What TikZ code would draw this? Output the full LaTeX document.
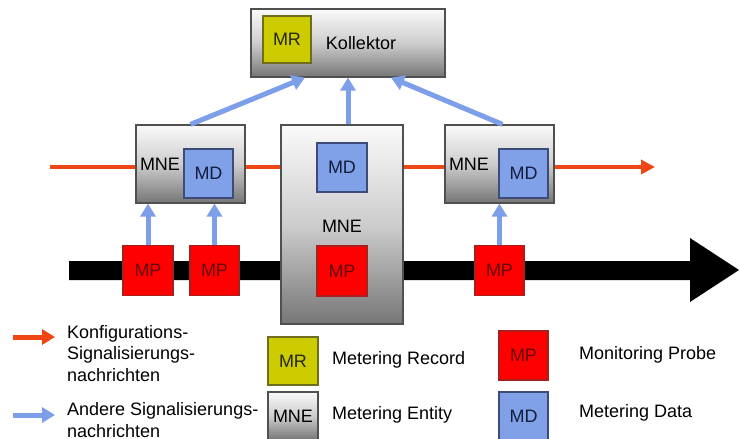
\documentclass[tikz,border=0pt]{standalone}
\usepackage{fontspec}
\setmainfont{Liberation Sans}
\usetikzlibrary{arrows.meta,calc}

\definecolor{cfgred}{RGB}{240,70,20}
\definecolor{sigblue}{RGB}{125,158,232}
\definecolor{mdfill}{RGB}{128,160,232}
\definecolor{mdedge}{RGB}{60,75,120}
\definecolor{mdtext}{RGB}{20,30,60}
\definecolor{mpfill}{RGB}{255,0,0}
\definecolor{mpedge}{RGB}{170,30,30}
\definecolor{mptext}{RGB}{100,10,10}
\definecolor{mrfill}{RGB}{204,204,0}
\definecolor{mredge}{RGB}{110,110,30}
\definecolor{mrtext}{RGB}{40,40,10}
\definecolor{boxedge}{RGB}{80,80,80}
\definecolor{shadelow}{RGB}{118,118,118}
\definecolor{shademid}{RGB}{205,205,205}
\definecolor{shadetop}{RGB}{250,250,250}

% light at the top, darker gray towards the bottom
\pgfdeclareverticalshading{entityshade}{100bp}{color(0bp)=(shadelow); color(25bp)=(shadelow); color(50bp)=(shademid); color(75bp)=(shadetop); color(100bp)=(shadetop)}

\tikzset{
  txt/.style={font=\fontsize{18}{21.5}\selectfont},
  entity/.style={rectangle, inner sep=0pt, draw=boxedge, line width=1.2pt, shading=entityshade},
  mdbox/.style={rectangle, inner sep=0pt, draw=mdedge, line width=1.2pt, fill=mdfill, text=mdtext,
    minimum width=49pt, minimum height=49pt, txt},
  mpbox/.style={rectangle, inner sep=0pt, draw=mpedge, line width=1.2pt, fill=mpfill, text=mptext,
    minimum width=50pt, minimum height=50pt, txt},
  mrbox/.style={rectangle, inner sep=0pt, draw=mredge, line width=1.2pt, fill=mrfill, text=mrtext,
    minimum width=48pt, minimum height=47pt, txt},
  lbl/.style={txt, inner sep=0pt},
  sigarrow/.style={draw=sigblue, line width=5pt, -{Triangle[width=15pt,length=13pt]}},
  cfgline/.style={draw=cfgred, line width=4pt, -{Triangle[width=14pt,length=14pt]}},
  legcfg/.style={draw=cfgred, line width=5pt, -{Triangle[width=15pt,length=13pt]}},
}

\begin{document}
\begin{tikzpicture}[x=1pt,y=-1pt]
  \fill[white] (0,0) rectangle (740,439);
  \useasboundingbox (0,0) rectangle (740,439);

  % configuration signalling line
  \coordinate (cfgstart) at (50,167);
  \coordinate (cfgend) at (655,167);
  \draw[cfgline] (cfgstart) -- (cfgend);

  % data path (thick black arrow)
  \fill[black] (69,261) -- (690,261) -- (690,238) -- (739,270) -- (690,302) -- (690,280) -- (69,280) -- cycle;

  % collector
  \node[entity, minimum width=194pt, minimum height=68pt] (koll) at (348,43) {};
  \node[mrbox] (mr) at (287,39.5) {MR};
  \node[lbl] (kolltxt) at (361,43) {Kollektor};

  % left metering entity
  \node[entity, minimum width=109pt, minimum height=78pt] (mne1) at (190.5,164) {};
  \node[lbl] (mne1txt) at (160,164) {MNE};
  \node[mdbox] (md1) at (208.5,173.5) {MD};

  % central metering entity
  \node[entity, minimum width=122pt, minimum height=199pt] (mne2) at (342,224.5) {};
  \node[mdbox, minimum width=50pt] (md2) at (342,167.5) {MD};
  \node[lbl] (mne2txt) at (342,226) {MNE};
  \node[mpbox] (mp3) at (342,271) {MP};

  % right metering entity
  \node[entity, minimum width=109pt, minimum height=78pt] (mne3) at (499.5,164) {};
  \node[lbl] (mne3txt) at (469,164) {MNE};
  \node[mdbox] (md3) at (523.5,173.5) {MD};

  % monitoring probes on the data path
  \node[mpbox] (mp1) at (148,270.5) {MP};
  \node[mpbox, minimum width=49pt] (mp2) at (214.5,270.5) {MP};
  \node[mpbox, minimum width=49pt] (mp4) at (499.5,270.5) {MP};

  % other signalling
  \draw[sigarrow] (mp1.north) -- (mp1.north |- mne1.south);
  \draw[sigarrow] (mp2.north) -- (mp2.north |- mne1.south);
  \draw[sigarrow] (mp4.north) -- (mp4.north |- mne3.south);
  \draw[sigarrow] (mne1.north) -- ($(koll.south west)!0.28!(koll.south east)$);
  \draw[sigarrow] (koll.south |- mne2.north) -- (koll.south);
  \draw[sigarrow] ([xshift=3pt]mne3.north) -- ($(koll.south west)!0.72!(koll.south east)$);

  % legend
  \coordinate (lcfg1) at (13,337);
  \coordinate (lcfg2) at (55,337);
  \draw[legcfg] (lcfg1) -- (lcfg2);
  \node[lbl, anchor=west, align=left] (lcfgtxt) at (67,353.5) {Konfigurations-\\Signalisierungs-\\nachrichten};

  \coordinate (lsig1) at (13,415);
  \coordinate (lsig2) at (55,415);
  \draw[sigarrow] (lsig1) -- (lsig2);
  \node[lbl, anchor=west, align=left] (lsigtxt) at (67,420) {Andere Signalisierungs-\\nachrichten};

  \node[mrbox, minimum width=50pt, minimum height=48pt] (lmr) at (293,361) {MR};
  \node[lbl, anchor=west] (lmrtxt) at (332,360) {Metering Record};

  \node[entity, minimum width=50pt, minimum height=48pt, txt] (lmne) at (293,416) {MNE};
  \node[lbl, anchor=west] (lmnetxt) at (332,415) {Metering Entity};

  \node[mpbox, minimum width=49pt, minimum height=49pt] (lmp) at (523.5,355.5) {MP};
  \node[lbl, anchor=west] (lmptxt) at (579,355) {Monitoring Probe};

  \node[mdbox, minimum height=48pt] (lmd) at (523.5,416) {MD};
  \node[lbl, anchor=west] (lmdtxt) at (579,413) {Metering Data};
\end{tikzpicture}
\end{document}
